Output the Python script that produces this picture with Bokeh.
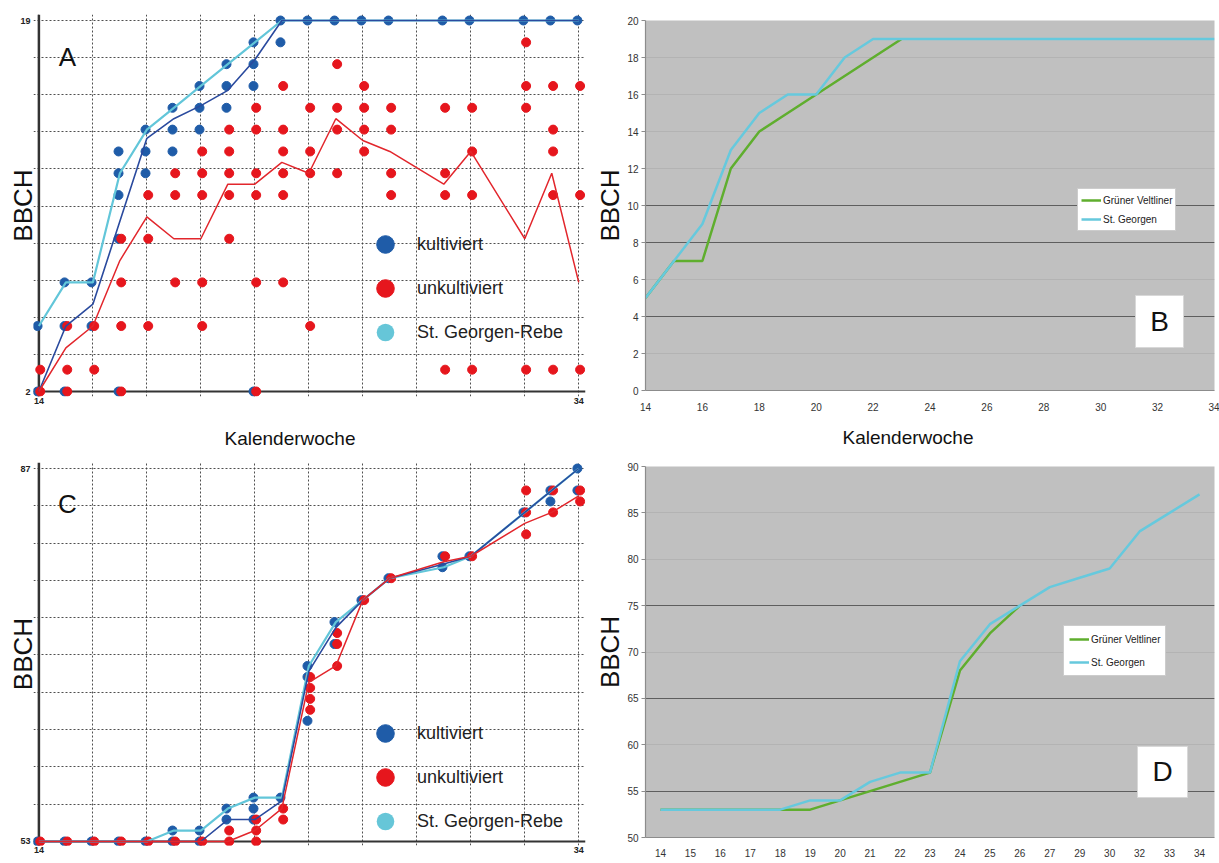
from bokeh.plotting import figure
from bokeh.models import (ColumnDataSource, FixedTicker, Span, Label, Legend, LegendItem,
                          Grid, FactorRange, Range1d, BoxAnnotation, Title)
from bokeh.layouts import row, column
from bokeh.transform import dodge
from bokeh.embed import file_html
from bokeh.resources import INLINE

FONT = "Liberation Sans"

# ---------------- data ----------------
LINE_WEEKS = [14, 15, 16, 17, 18, 19, 20, 21, 22, 23, 24, 25, 26, 27, 29, 30, 32, 33, 34]

# Panel A: BBCH 2-19 single observations (week -> list of BBCH values)
A_KULT = {14: [5, 2], 15: [7, 5, 2], 16: [7, 5], 17: [13, 12, 11, 9, 2],
          18: [14, 13, 12], 19: [15, 14, 13], 20: [16, 15, 14], 21: [17, 16, 15],
          22: [18, 17, 16, 2], 23: [19, 18], 24: [19], 25: [19], 26: [19], 27: [19],
          29: [19], 30: [19], 32: [19], 33: [19], 34: [19]}
A_UNKULT = {14: [3, 2], 15: [5, 3, 2], 16: [5, 3], 17: [9, 7, 5, 2], 18: [11, 9, 5],
            19: [12, 11, 7], 20: [13, 12, 11, 7, 5], 21: [14, 13, 12, 11, 9],
            22: [15, 14, 12, 11, 7, 2], 23: [16, 14, 13, 12, 11, 7], 24: [15, 13, 12, 5],
            25: [17, 15, 14, 12], 26: [16, 15, 14, 13], 27: [15, 14, 12, 11],
            29: [15, 12, 11, 3], 30: [15, 13, 11, 3], 32: [18, 16, 15, 3],
            33: [16, 14, 13, 11, 3], 34: [16, 11, 3]}
A_LINE_KULT = [2, 5, 6, 9.8, 13.6, 14.5, 15.1, 15.8, 17.2, 19, 19, 19, 19, 19, 19, 19, 19, 19, 19]
A_LINE_UNKULT = [2, 4, 5, 8, 10, 9, 9, 11.5, 11.5, 12.5, 12, 14.5, 13.5, 13, 11.5, 13, 9, 12, 7]
A_LINE_SG = [5, 7, 7, 12, 14, 15, 16, 17, 18, 19, 19, 19, 19, 19, 19, 19, 19, 19, 19]
A_Y_TICKS = [2, 19]

# Panel C: BBCH 53-87
C_KULT = {14: [53], 15: [53], 16: [53], 17: [53], 18: [53], 19: [54, 53], 20: [54, 53],
          21: [56, 55], 22: [57, 56, 55], 23: [57], 24: [69, 68, 64], 25: [73, 71],
          26: [75], 27: [77], 29: [79, 78], 30: [79], 32: [83], 33: [85, 84], 34: [87, 85]}
C_UNKULT = {14: [53], 15: [53], 16: [53], 17: [53], 18: [53], 19: [53], 20: [53],
            21: [54, 53], 22: [55, 54, 53], 23: [56, 55], 24: [68, 67, 66, 65],
            25: [72, 71, 69], 26: [75], 27: [77], 29: [79], 30: [79], 32: [85, 83, 81],
            33: [85, 83], 34: [85, 84]}
C_LINE_KULT = [53, 53, 53, 53, 53, 53, 53, 55, 55, 56.7, 68.5, 72.5, 75, 77, 78.3, 79, 83, 85, 87]
C_LINE_UNKULT = [53, 53, 53, 53, 53, 53, 53, 53, 54, 56, 67.5, 69, 75, 77, 78.5, 79, 82, 83, 84.5]
C_LINE_SG = [53, 53, 53, 53, 53, 54, 54, 56, 57, 57, 69, 73, 75, 77, 78, 79, 83, 85, 87]
C_Y_TICKS = [53, 87]

X_TICKS_AC = [14, 34]

# Panel B
B_SG = [5, 7, 9, 13, 15, 16, 16, 18, 19, 19, 19, 19, 19, 19, 19, 19, 19, 19, 19]
B_GV = [5, 7, 7, 12, 14, 15, 16, 17, 18, 19]
B_Y_TICKS = list(range(0, 21, 2))
B_X_TICKS = list(range(14, 35, 2))

# Panel D
D_LABELS = [str(w) for w in LINE_WEEKS]
D_SG = [53, 53, 53, 53, 53, 54, 54, 56, 57, 57, 69, 73, 75, 77, 78, 79, 83, 85, 87]
D_GV = [53, 53, 53, 53, 53, 53, 54, 55, 56, 57, 68, 72, 75]
D_Y_TICKS = list(range(50, 91, 5))

# ---------------- styles ----------------
BLUE = "#1f5ca8"
RED = "#e6161d"
CYAN = "#66c6d8"
BLUE_LINE = "#2a4a9e"
RED_LINE = "#e2262c"
CYAN_LINE = "#62c6d9"
GREEN = "#5fae2e"
CYAN_B = "#66c9dd"
GRAY_BG = "#c0c0c0"


def flatten(d):
    weeks, vals = [], []
    for w, vs in d.items():
        for v in vs:
            weeks.append(w)
            vals.append(v)
    return ColumnDataSource(data=dict(week=weeks, bbch=vals))


def kw_title(offset, standoff):
    return Title(text="Kalenderwoche", align="left", offset=offset, vertical_align="top",
                 standoff=standoff, text_font=FONT, text_font_size="19px",
                 text_font_style="normal", text_color="#111")


def scatter_panel(kult, unkult, lk, lu, lsg, yticks, yr, frame_h, mb_top, mb_bottom,
                  letter, letter_y, legend_vy):
    y_lo, y_hi = yticks
    p = figure(frame_width=552, frame_height=frame_h,
               x_range=Range1d(13.8, 34.25), y_range=Range1d(*yr),
               output_backend="svg", toolbar_location=None,
               min_border_left=33, min_border_right=7,
               min_border_top=mb_top, min_border_bottom=mb_bottom,
               background_fill_color="white", border_fill_color="white",
               outline_line_color=None)
    p.xgrid.ticker = FixedTicker(ticks=list(range(14, 35, 2)))
    p.ygrid.ticker = FixedTicker(ticks=[y_lo + k * (y_hi - y_lo) / 10 for k in range(11)])
    for g in (p.xgrid[0], p.ygrid[0]):
        g.grid_line_color = "#3c3c3c"
        g.grid_line_dash = "2 2"
        g.grid_line_width = 1
        g.grid_line_alpha = 0.9
    p.xaxis.ticker = FixedTicker(ticks=X_TICKS_AC)
    p.yaxis.ticker = FixedTicker(ticks=list(yticks))
    for ax in (p.xaxis[0], p.yaxis[0]):
        ax.axis_line_color = None
        ax.major_tick_line_color = None
        ax.minor_tick_line_color = None
        ax.major_tick_out = 0
        ax.major_tick_in = 0
        ax.minor_tick_out = 0
        ax.minor_tick_in = 0
        ax.major_label_text_font = FONT
        ax.major_label_text_font_size = "9px"
        ax.major_label_text_font_style = "bold"
        ax.major_label_text_color = "#222"
    p.xaxis.major_label_standoff = 1
    p.yaxis.major_label_standoff = 3
    p.yaxis.axis_label = "BBCH"
    p.yaxis.axis_label_text_font = FONT
    p.yaxis.axis_label_text_font_size = "26px"
    p.yaxis.axis_label_text_font_style = "normal"
    p.yaxis.axis_label_text_color = "#111"
    p.yaxis.axis_label_standoff = -21

    p.add_layout(Span(location=14, dimension="height", line_color="#333333",
                      line_width=2.5, level="underlay"))
    p.add_layout(Span(location=y_lo, dimension="width", line_color="#333333",
                      line_width=2, level="underlay"))

    rk = p.scatter(x=dodge("week", -0.05), y="bbch", source=flatten(kult), size=9,
                   fill_color=BLUE, line_color=BLUE)
    ru = p.scatter(x=dodge("week", 0.05), y="bbch", source=flatten(unkult), size=9,
                   fill_color=RED, line_color=RED)
    rsg = p.scatter(LINE_WEEKS, lsg, size=0, fill_color=CYAN, line_color=None)

    p.line(LINE_WEEKS, lsg, line_color=CYAN_LINE, line_width=2.2)
    p.line(LINE_WEEKS, lk, line_color=BLUE_LINE, line_width=1.6)
    p.line(LINE_WEEKS, lu, line_color=RED_LINE, line_width=1.5)

    legend = Legend(items=[LegendItem(label="kultiviert", renderers=[rk]),
                           LegendItem(label="unkultiviert", renderers=[ru]),
                           LegendItem(label="St. Georgen-Rebe", renderers=[rsg])],
                    location=(330, legend_vy), orientation="vertical",
                    glyph_width=44, glyph_height=44, label_height=20, spacing=-12,
                    padding=0, margin=0, label_standoff=10,
                    label_text_font=FONT, label_text_font_size="18px",
                    label_text_color="#222", label_text_baseline="middle",
                    background_fill_alpha=0, border_line_color=None)
    p.add_layout(legend)

    p.add_layout(Label(x=34, y=letter_y, x_units="screen", y_units="screen", text=letter,
                       text_font=FONT, text_font_size="26px", text_align="center",
                       text_baseline="middle", text_color="#111"))
    return p


def style_line_axes(p, ylab_standoff, x_standoff):
    for ax in (p.xaxis[0], p.yaxis[0]):
        ax.axis_line_color = "#8c8c8c"
        ax.axis_line_width = 1.2
        ax.minor_tick_line_color = None
        ax.minor_tick_out = 0
        ax.minor_tick_in = 0
        ax.major_label_text_font = FONT
        ax.major_label_text_font_size = "10px"
        ax.major_label_text_color = "#333"
    p.yaxis.major_tick_out = 4
    p.yaxis.major_tick_in = 0
    p.yaxis.major_tick_line_color = "#8c8c8c"
    p.yaxis.major_label_standoff = 3
    p.xaxis.major_tick_out = 0
    p.xaxis.major_tick_in = 0
    p.xaxis.major_tick_line_color = None
    p.xaxis.major_label_standoff = x_standoff
    p.yaxis.axis_label = "BBCH"
    p.yaxis.axis_label_text_font = FONT
    p.yaxis.axis_label_text_font_size = "26px"
    p.yaxis.axis_label_text_font_style = "normal"
    p.yaxis.axis_label_text_color = "#111"
    p.yaxis.axis_label_standoff = ylab_standoff


def grids(p, all_ticks, dark_ticks):
    p.xgrid.visible = False
    p.ygrid.ticker = FixedTicker(ticks=all_ticks)
    p.ygrid.grid_line_color = "#b3b3b3"
    p.ygrid.grid_line_width = 1
    p.add_layout(Grid(dimension=1, ticker=FixedTicker(ticks=dark_ticks),
                      grid_line_color="#5e5e5e", grid_line_width=1.2))


def line_legend(p, r_gv, r_sg, loc, padding, spacing):
    p.add_layout(Legend(items=[LegendItem(label="Grüner Veltliner", renderers=[r_gv]),
                               LegendItem(label="St. Georgen", renderers=[r_sg])],
                        location=loc, orientation="vertical", glyph_width=20,
                        glyph_height=16, label_height=16, spacing=spacing,
                        padding=padding, margin=0, label_standoff=2,
                        label_text_font=FONT, label_text_font_size="10px",
                        label_text_color="#222", label_text_baseline="middle",
                        background_fill_color="white", background_fill_alpha=1,
                        border_line_color="#9a9a9a", border_line_width=1))


def letter_box(p, letter, box, center):
    l, r, b, t = box
    p.add_layout(BoxAnnotation(left=l, right=r, bottom=b, top=t,
                               left_units="screen", right_units="screen",
                               bottom_units="screen", top_units="screen",
                               fill_color="white", fill_alpha=1,
                               line_color="#d8d8d8", line_alpha=1, line_width=1))
    p.add_layout(Label(x=center[0], y=center[1], x_units="screen", y_units="screen",
                       text=letter, text_font=FONT, text_font_size="28px",
                       text_align="center", text_baseline="middle", text_color="#111"))


# ---------------- panels ----------------
pA = scatter_panel(A_KULT, A_UNKULT, A_LINE_KULT, A_LINE_UNKULT, A_LINE_SG, A_Y_TICKS,
                   (1.771, 19.275), 382, 14, 18, "A", 340, 42)
pC = scatter_panel(C_KULT, C_UNKULT, C_LINE_KULT, C_LINE_UNKULT, C_LINE_SG, C_Y_TICKS,
                   (52.635, 87.547), 383, 48, 13, "C", 342, 2)
pC.add_layout(kw_title(191, 24), "above")

# Panel B
pB = figure(frame_width=569, frame_height=370, x_range=Range1d(14, 34), y_range=Range1d(0, 20),
            output_backend="svg", toolbar_location=None,
            min_border_left=50, min_border_right=5, min_border_top=20, min_border_bottom=0,
            background_fill_color=GRAY_BG, border_fill_color="white", outline_line_color=None)
grids(pB, B_Y_TICKS, [4, 8, 10])
pB.xaxis.ticker = FixedTicker(ticks=B_X_TICKS)
pB.yaxis.ticker = FixedTicker(ticks=B_Y_TICKS)
style_line_axes(pB, -1, 12)
rb_gv = pB.line(LINE_WEEKS[:len(B_GV)], B_GV, line_color=GREEN, line_width=2.5)
rb_sg = pB.line(LINE_WEEKS, B_SG, line_color=CYAN_B, line_width=2.5)
line_legend(pB, rb_gv, rb_sg, (432, 159), 3, 3)
letter_box(pB, "B", (490, 538, 43, 95), (514, 69))
pB.add_layout(kw_title(197, 26), "below")

# Panel D
pD = figure(frame_width=569, frame_height=371, x_range=FactorRange(factors=D_LABELS),
            y_range=Range1d(50, 90), output_backend="svg", toolbar_location=None,
            min_border_left=50, min_border_right=5, min_border_top=4, min_border_bottom=24,
            background_fill_color=GRAY_BG, border_fill_color="white", outline_line_color=None)
grids(pD, D_Y_TICKS, [55, 65, 75])
pD.yaxis.ticker = FixedTicker(ticks=D_Y_TICKS)
style_line_axes(pD, -1, 11)
rd_gv = pD.line(D_LABELS[:len(D_GV)], D_GV, line_color=GREEN, line_width=2.5)
rd_sg = pD.line(D_LABELS, D_SG, line_color=CYAN_B, line_width=2.5)
line_legend(pD, rd_gv, rd_sg, (418, 161), 5, 7)
letter_box(pD, "D", (492, 542, 40, 91), (517, 66))

layout = row(column(pA, pC), column(pB, pD))

open("out.html", "w").write(file_html(layout, INLINE))
